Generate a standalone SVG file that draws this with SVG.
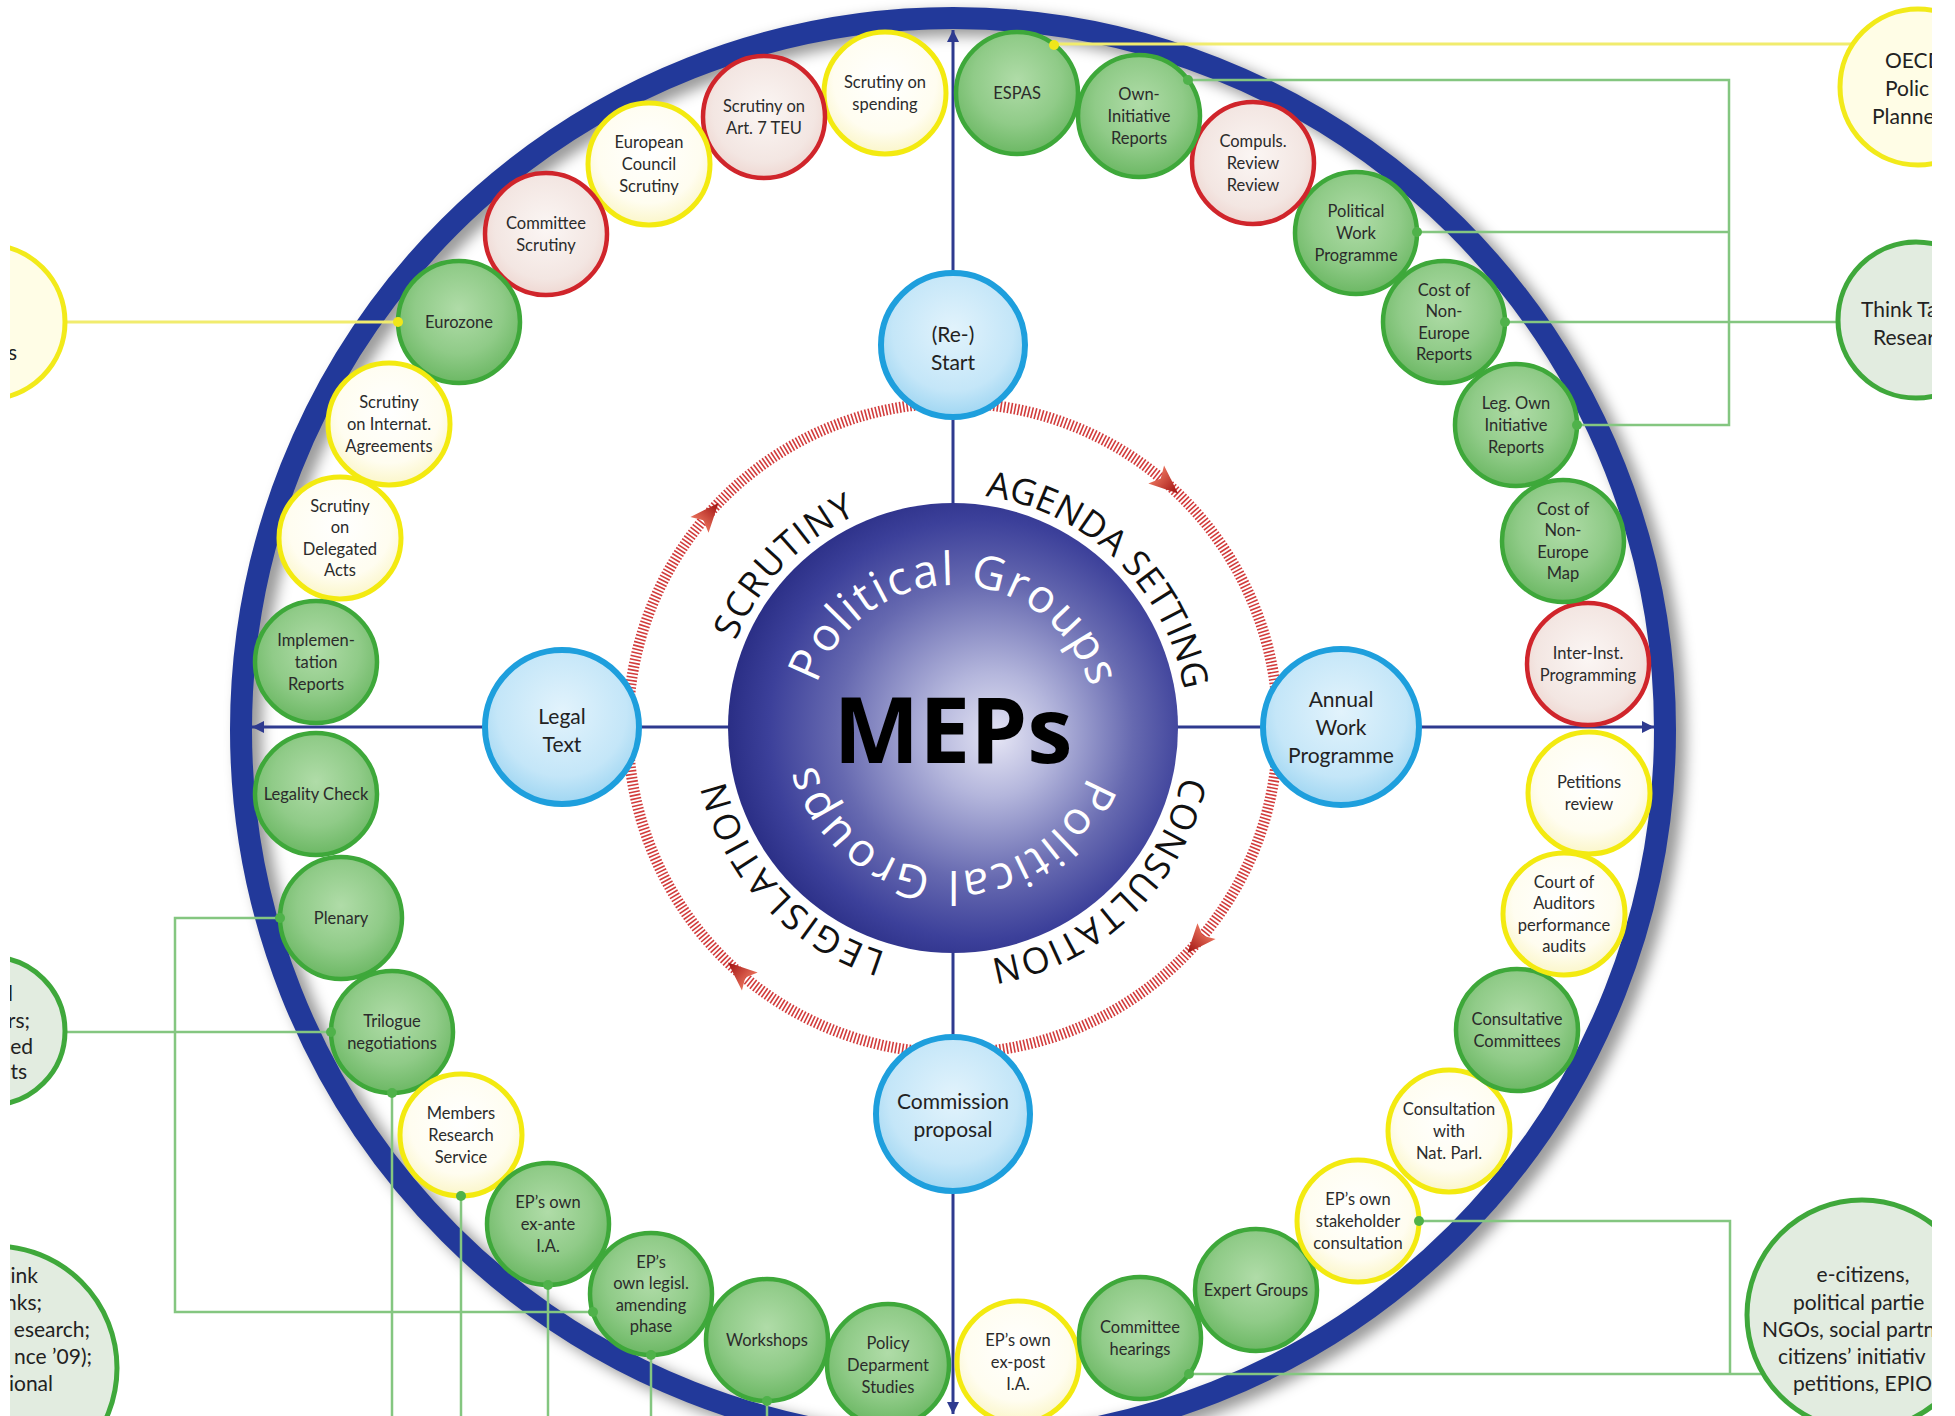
<svg xmlns="http://www.w3.org/2000/svg" width="1955" height="1416" viewBox="0 0 1955 1416">
<defs>
<style>
.lbl{font-family:Lato,"Open Sans",sans-serif;font-size:16.5px;fill:#2b2b2b;text-anchor:middle}
.blbl{font-family:Lato,"Open Sans",sans-serif;font-size:21px;fill:#222;text-anchor:middle}
.big{font-family:Lato,"Open Sans",sans-serif;font-size:21px;fill:#222}
.ng{fill:url(#gG);stroke:#3ea83a;stroke-width:4.5}
.ny{fill:url(#yG);stroke:#f3ea10;stroke-width:5}
.nr{fill:url(#rG);stroke:#d0252b;stroke-width:4.5}
.nb{fill:url(#bG);stroke:#1e9fdd;stroke-width:6}
.oy{fill:#fffde6;stroke:#f2ea1a;stroke-width:5}
.og{fill:#e2ece0;stroke:#3fa83b;stroke-width:5}
.cy{stroke:#f1ec6e;stroke-width:3;fill:none}
.cg{stroke:#84c680;stroke-width:2.5;fill:none}
.dg{fill:#4fb24a}
.dy{fill:#efe61a}
.fa{fill:url(#faG)}
.sec{font-family:"Open Sans",sans-serif;font-size:36px;fill:#111}
.pg{font-family:"Open Sans",sans-serif;font-size:46px;fill:#ffffff;letter-spacing:1.8px}
</style>
<radialGradient id="gG" cx="0.5" cy="0.4" r="0.6"><stop offset="0" stop-color="#b0dca8"/><stop offset="0.6" stop-color="#90cb88"/><stop offset="1" stop-color="#6cb864"/></radialGradient>
<radialGradient id="yG" cx="0.5" cy="0.4" r="0.6"><stop offset="0" stop-color="#ffffff"/><stop offset="0.7" stop-color="#fffdf0"/><stop offset="1" stop-color="#fbf6c8"/></radialGradient>
<radialGradient id="rG" cx="0.5" cy="0.45" r="0.6"><stop offset="0" stop-color="#fbf6f4"/><stop offset="0.7" stop-color="#f3e6e2"/><stop offset="1" stop-color="#eed2cc"/></radialGradient>
<radialGradient id="bG" cx="0.5" cy="0.4" r="0.6"><stop offset="0" stop-color="#e2f3fc"/><stop offset="0.7" stop-color="#c4e6f8"/><stop offset="1" stop-color="#9fd6f2"/></radialGradient>
<radialGradient id="mepG" cx="0.55" cy="0.5" r="0.55" fx="0.6" fy="0.52"><stop offset="0" stop-color="#e4e4f4"/><stop offset="0.25" stop-color="#b4b6dc"/><stop offset="0.6" stop-color="#6669b0"/><stop offset="0.85" stop-color="#3c409a"/><stop offset="1" stop-color="#2a2e85"/></radialGradient>
<linearGradient id="faG" x1="0" y1="0" x2="1" y2="0"><stop offset="0" stop-color="#e8705a"/><stop offset="1" stop-color="#9e1010"/></linearGradient>
<filter id="blur" x="-10%" y="-10%" width="120%" height="120%"><feGaussianBlur stdDeviation="7"/></filter>
<marker id="ax" viewBox="0 0 10 10" refX="10" refY="5" markerWidth="14" markerHeight="12" markerUnits="userSpaceOnUse" orient="auto-start-reverse"><path d="M0,0 L10,5 L0,10 z" fill="#2e3a8f"/></marker>
<clipPath id="clipv"><rect x="10" y="0" width="1922" height="1416"/></clipPath>
<path id="pgPath" d="M810,728 A143,143 0 1 1 1096,728 A143,143 0 1 1 810,728"/>
<path id="secPath" d="M719,728 A234,234 0 1 1 1187,728 A234,234 0 1 1 719,728"/>
</defs>
<rect width="1955" height="1416" fill="#ffffff"/>

<g id="ring">
<circle cx="962" cy="736" r="712" fill="none" stroke="#000" stroke-opacity="0.4" stroke-width="24" filter="url(#blur)"/>
<circle cx="953" cy="730" r="712" fill="none" stroke="#22399a" stroke-width="22"/>
</g>

<g id="connectors">
<path class="cy" d="M1054,44 H1853"/>
<path class="cy" d="M398,322 H65"/>
<path class="cg" d="M1188,80 H1729 V425 H1577"/>
<path class="cg" d="M1417,232 H1729"/>
<path class="cg" d="M1505,322 H1839"/>
<path class="cg" d="M331,1032 H65"/>
<path class="cg" d="M280,918 H175 V1312 H593"/>
<path class="cg" d="M392,1093 V1416"/>
<path class="cg" d="M461,1196 V1416"/>
<path class="cg" d="M548,1285 V1416"/>
<path class="cg" d="M651,1355 V1416"/>
<path class="cg" d="M767,1401 V1416"/>
<path class="cg" d="M1419,1221 H1730 V1374"/>
<path class="cg" d="M1189,1374 H1765"/>
</g>

<g id="axes" stroke="#2e3a8f" stroke-width="3" fill="none">
<line x1="953" y1="1414" x2="953" y2="30" marker-start="url(#ax)" marker-end="url(#ax)"/>
<line x1="252" y1="727" x2="1654" y2="727" marker-start="url(#ax)" marker-end="url(#ax)"/>
</g>

<g id="cycle">
<circle cx="953" cy="728" r="325" fill="none" stroke="#d23c3c" stroke-width="11" stroke-dasharray="1.6 1.9"/>
<path class="fa" transform="translate(1166,483) rotate(41)" d="M16,0 L-13,-12 L-7,0 L-13,12 Z"/>
<path class="fa" transform="translate(1198,941) rotate(131)" d="M16,0 L-13,-12 L-7,0 L-13,12 Z"/>
<path class="fa" transform="translate(740,973) rotate(221)" d="M16,0 L-13,-12 L-7,0 L-13,12 Z"/>
<path class="fa" transform="translate(708,515) rotate(311)" d="M16,0 L-13,-12 L-7,0 L-13,12 Z"/>
</g>

<g id="meps">
<circle cx="953" cy="728" r="225" fill="url(#mepG)"/>
<text class="pg"><textPath href="#pgPath" startOffset="25.3%" text-anchor="middle">Political Groups</textPath></text>
<text class="pg"><textPath href="#pgPath" startOffset="75.8%" text-anchor="middle">Political Groups</textPath></text>
<text x="953" y="763" text-anchor="middle" font-family="'Open Sans',sans-serif" font-weight="bold" font-size="91" fill="#000">MEPs</text>
</g>

<g id="sections">
<text class="sec" letter-spacing="1.5"><textPath href="#secPath" startOffset="12.2%" text-anchor="middle">SCRUTINY</textPath></text>
<text class="sec"><textPath href="#secPath" startOffset="37.3%" text-anchor="middle">AGENDA SETTING</textPath></text>
<text class="sec" letter-spacing="1"><textPath href="#secPath" startOffset="62.9%" text-anchor="middle">CONSULTATION</textPath></text>
<text class="sec" letter-spacing="2.5"><textPath href="#secPath" startOffset="88.1%" text-anchor="middle">LEGISLATION</textPath></text>
</g>

<g id="n-start"><circle class="nb" cx="953" cy="345" r="72"/><text class="blbl" font-size="23"><tspan x="953" y="342">(Re-)</tspan><tspan x="953" y="370">Start</tspan></text></g>
<g id="n-legal"><circle class="nb" cx="562" cy="727" r="77"/><text class="blbl"><tspan x="562" y="724">Legal</tspan><tspan x="562" y="752">Text</tspan></text></g>
<g id="n-annual"><circle class="nb" cx="1341" cy="727" r="78"/><text class="blbl"><tspan x="1341" y="707">Annual</tspan><tspan x="1341" y="735">Work</tspan><tspan x="1341" y="763">Programme</tspan></text></g>
<g id="n-commission"><circle class="nb" cx="953" cy="1114" r="77"/><text class="blbl" font-size="22"><tspan x="953" y="1109">Commission</tspan><tspan x="953" y="1137">proposal</tspan></text></g>

<g id="n-spending"><circle class="ny" cx="885" cy="93" r="61"/><text class="lbl"><tspan x="885" y="88">Scrutiny on</tspan><tspan x="885" y="110">spending</tspan></text></g>
<g id="n-art7"><circle class="nr" cx="764" cy="117" r="61"/><text class="lbl"><tspan x="764" y="112">Scrutiny on</tspan><tspan x="764" y="134">Art. 7 TEU</tspan></text></g>
<g id="n-eucouncil"><circle class="ny" cx="649" cy="164" r="61"/><text class="lbl"><tspan x="649" y="148">European</tspan><tspan x="649" y="170">Council</tspan><tspan x="649" y="192">Scrutiny</tspan></text></g>
<g id="n-comscrutiny"><circle class="nr" cx="546" cy="234" r="61"/><text class="lbl"><tspan x="546" y="229">Committee</tspan><tspan x="546" y="251">Scrutiny</tspan></text></g>
<g id="n-eurozone"><circle class="ng" cx="459" cy="322" r="61"/><text class="lbl" x="459" y="328">Eurozone</text></g>
<g id="n-internat"><circle class="ny" cx="389" cy="424" r="61"/><text class="lbl"><tspan x="389" y="408">Scrutiny</tspan><tspan x="389" y="430">on Internat.</tspan><tspan x="389" y="452">Agreements</tspan></text></g>
<g id="n-delegated"><circle class="ny" cx="340" cy="538" r="61"/><text class="lbl"><tspan x="340" y="512">Scrutiny</tspan><tspan x="340" y="533">on</tspan><tspan x="340" y="555">Delegated</tspan><tspan x="340" y="576">Acts</tspan></text></g>
<g id="n-implementation"><circle class="ng" cx="316" cy="662" r="61"/><text class="lbl"><tspan x="316" y="646">Implemen-</tspan><tspan x="316" y="668">tation</tspan><tspan x="316" y="690">Reports</tspan></text></g>
<g id="n-legality"><circle class="ng" cx="316" cy="794" r="61"/><text class="lbl" x="316" y="800">Legality Check</text></g>
<g id="n-plenary"><circle class="ng" cx="341" cy="918" r="61"/><text class="lbl" x="341" y="924">Plenary</text></g>
<g id="n-trilogue"><circle class="ng" cx="392" cy="1032" r="61"/><text class="lbl"><tspan x="392" y="1027">Trilogue</tspan><tspan x="392" y="1049">negotiations</tspan></text></g>
<g id="n-mrs"><circle class="ny" cx="461" cy="1135" r="61"/><text class="lbl"><tspan x="461" y="1119">Members</tspan><tspan x="461" y="1141">Research</tspan><tspan x="461" y="1163">Service</tspan></text></g>
<g id="n-exante"><circle class="ng" cx="548" cy="1224" r="61"/><text class="lbl"><tspan x="548" y="1208">EP’s own</tspan><tspan x="548" y="1230">ex-ante</tspan><tspan x="548" y="1252">I.A.</tspan></text></g>
<g id="n-amending"><circle class="ng" cx="651" cy="1294" r="61"/><text class="lbl"><tspan x="651" y="1268">EP’s</tspan><tspan x="651" y="1289">own legisl.</tspan><tspan x="651" y="1311">amending</tspan><tspan x="651" y="1332">phase</tspan></text></g>
<g id="n-workshops"><circle class="ng" cx="767" cy="1340" r="61"/><text class="lbl" x="767" y="1346">Workshops</text></g>
<g id="n-policydept"><circle class="ng" cx="888" cy="1365" r="61"/><text class="lbl"><tspan x="888" y="1349">Policy</tspan><tspan x="888" y="1371">Deparment</tspan><tspan x="888" y="1393">Studies</tspan></text></g>
<g id="n-expost"><circle class="ny" cx="1018" cy="1362" r="61"/><text class="lbl"><tspan x="1018" y="1346">EP’s own</tspan><tspan x="1018" y="1368">ex-post</tspan><tspan x="1018" y="1390">I.A.</tspan></text></g>
<g id="n-hearings"><circle class="ng" cx="1140" cy="1338" r="61"/><text class="lbl"><tspan x="1140" y="1333">Committee</tspan><tspan x="1140" y="1355">hearings</tspan></text></g>
<g id="n-expert"><circle class="ng" cx="1256" cy="1290" r="61"/><text class="lbl" x="1256" y="1296">Expert Groups</text></g>
<g id="n-stakeholder"><circle class="ny" cx="1358" cy="1221" r="61"/><text class="lbl"><tspan x="1358" y="1205">EP’s own</tspan><tspan x="1358" y="1227">stakeholder</tspan><tspan x="1358" y="1249">consultation</tspan></text></g>
<g id="n-natparl"><circle class="ny" cx="1449" cy="1131" r="61"/><text class="lbl"><tspan x="1449" y="1115">Consultation</tspan><tspan x="1449" y="1137">with</tspan><tspan x="1449" y="1159">Nat. Parl.</tspan></text></g>
<g id="n-consultative"><circle class="ng" cx="1517" cy="1030" r="61"/><text class="lbl"><tspan x="1517" y="1025">Consultative</tspan><tspan x="1517" y="1047">Committees</tspan></text></g>
<g id="n-auditors"><circle class="ny" cx="1564" cy="914" r="61"/><text class="lbl"><tspan x="1564" y="888">Court of</tspan><tspan x="1564" y="909">Auditors</tspan><tspan x="1564" y="931">performance</tspan><tspan x="1564" y="952">audits</tspan></text></g>
<g id="n-petitions"><circle class="ny" cx="1589" cy="793" r="61"/><text class="lbl"><tspan x="1589" y="788">Petitions</tspan><tspan x="1589" y="810">review</tspan></text></g>
<g id="n-interinst"><circle class="nr" cx="1588" cy="664" r="61"/><text class="lbl"><tspan x="1588" y="659">Inter-Inst.</tspan><tspan x="1588" y="681">Programming</tspan></text></g>
<g id="n-conemap"><circle class="ng" cx="1563" cy="541" r="61"/><text class="lbl"><tspan x="1563" y="515">Cost of</tspan><tspan x="1563" y="536">Non-</tspan><tspan x="1563" y="558">Europe</tspan><tspan x="1563" y="579">Map</tspan></text></g>
<g id="n-legown"><circle class="ng" cx="1516" cy="425" r="61"/><text class="lbl"><tspan x="1516" y="409">Leg. Own</tspan><tspan x="1516" y="431">Initiative</tspan><tspan x="1516" y="453">Reports</tspan></text></g>
<g id="n-conereports"><circle class="ng" cx="1444" cy="322" r="61"/><text class="lbl"><tspan x="1444" y="296">Cost of</tspan><tspan x="1444" y="317">Non-</tspan><tspan x="1444" y="339">Europe</tspan><tspan x="1444" y="360">Reports</tspan></text></g>
<g id="n-polwp"><circle class="ng" cx="1356" cy="233" r="61"/><text class="lbl"><tspan x="1356" y="217">Political</tspan><tspan x="1356" y="239">Work</tspan><tspan x="1356" y="261">Programme</tspan></text></g>
<g id="n-compuls"><circle class="nr" cx="1253" cy="163" r="61"/><text class="lbl"><tspan x="1253" y="147">Compuls.</tspan><tspan x="1253" y="169">Review</tspan><tspan x="1253" y="191">Review</tspan></text></g>
<g id="n-owninit"><circle class="ng" cx="1139" cy="116" r="61"/><text class="lbl"><tspan x="1139" y="100">Own-</tspan><tspan x="1139" y="122">Initiative</tspan><tspan x="1139" y="144">Reports</tspan></text></g>
<g id="n-espas"><circle class="ng" cx="1017" cy="93" r="61"/><text class="lbl" x="1017" y="99">ESPAS</text></g>

<g id="n-out-left-yellow" clip-path="url(#clipv)"><circle class="oy" cx="-12" cy="322" r="77"/><text class="big" x="17" y="360" text-anchor="end">s</text></g>
<g id="n-out-left-mid" clip-path="url(#clipv)"><circle class="og" cx="-9" cy="1031" r="74"/><text class="big" text-anchor="end"><tspan x="13" y="1001">l</tspan><tspan x="30" y="1028">rs;</tspan><tspan x="33" y="1054">ed</tspan><tspan x="27" y="1079">ts</tspan></text></g>
<g id="n-out-left-bottom" clip-path="url(#clipv)"><circle class="og" cx="-5" cy="1368" r="122"/><text class="big" text-anchor="end"><tspan x="38" y="1283">ink</tspan><tspan x="42" y="1310">nks;</tspan><tspan x="90" y="1337">esearch;</tspan><tspan x="92" y="1364">nce ’09);</tspan><tspan x="53" y="1391">ional</tspan></text></g>
<g id="n-out-oecd" clip-path="url(#clipv)"><circle class="oy" cx="1918" cy="87" r="78"/><text class="big"><tspan x="1885" y="68">OECD</tspan><tspan x="1885" y="96">Polic</tspan><tspan x="1872" y="124">Planne</tspan></text></g>
<g id="n-out-thinktank" clip-path="url(#clipv)"><circle class="og" cx="1916" cy="320" r="78"/><text class="big"><tspan x="1861" y="317">Think Ta</tspan><tspan x="1873" y="345">Resear</tspan></text></g>
<g id="n-out-citizens" clip-path="url(#clipv)"><circle class="og" cx="1862" cy="1315" r="115"/><text class="big"><tspan x="1863" y="1282" text-anchor="middle">e-citizens,</tspan><tspan x="1793" y="1310">political partie</tspan><tspan x="1762" y="1337">NGOs, social partn</tspan><tspan x="1778" y="1364">citizens’ initiativ</tspan><tspan x="1793" y="1391">petitions, EPIO</tspan></text></g>

<g id="connector-dots">
<circle class="dy" cx="1054" cy="45" r="5"/>
<circle class="dy" cx="398" cy="322" r="5"/>
<circle class="dg" cx="1188" cy="80" r="5"/>
<circle class="dg" cx="1417" cy="232" r="5"/>
<circle class="dg" cx="1505" cy="322" r="5"/>
<circle class="dg" cx="1577" cy="425" r="5"/>
<circle class="dg" cx="331" cy="1032" r="5"/>
<circle class="dg" cx="392" cy="1093" r="5"/>
<circle class="dg" cx="280" cy="918" r="5"/>
<circle class="dg" cx="461" cy="1196" r="5"/>
<circle class="dg" cx="548" cy="1285" r="5"/>
<circle class="dg" cx="593" cy="1312" r="5"/>
<circle class="dg" cx="651" cy="1355" r="5"/>
<circle class="dg" cx="767" cy="1401" r="5"/>
<circle class="dg" cx="1419" cy="1221" r="5"/>
<circle class="dg" cx="1189" cy="1374" r="5"/>
</g>
</svg>
